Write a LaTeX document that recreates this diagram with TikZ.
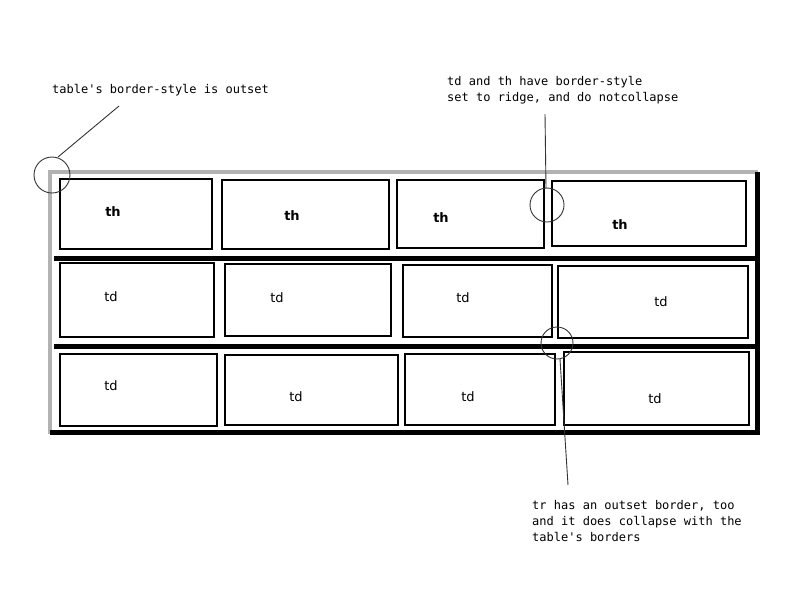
\documentclass[tikz,border=0pt]{standalone}
\usepackage{fontspec}
\setmainfont{DejaVu Sans}
\setmonofont{DejaVu Sans Mono}
\begin{document}
\begin{tikzpicture}[x=1pt,y=-1pt,
  cellbox/.style={draw=black,line width=1.1},
  lbl/.style={font=\fontsize{13}{15}\selectfont},
  hlbl/.style={font=\fontsize{13}{15}\selectfont\bfseries},
  note/.style={font=\ttfamily\fontsize{12}{16}\selectfont,align=left,anchor=north west,inner sep=0},
  callout/.style={draw=black!80,line width=0.9}]
\useasboundingbox (0,0) rectangle (800,600);
% table
\draw[line width=4,black!30] (50,434) -- (50,172) -- (758,172);
\draw[line width=5] (757,172) -- (757,434);
\draw[line width=5] (50,432) -- (760,432);
\draw[line width=5] (54,258) -- (757,258);
\draw[line width=5] (54,346) -- (757,346);
% cells
\foreach \n/\a/\b/\c/\d in {a1/60/179/212/249,a2/222/180/389/249,a3/397/180/544/248,a4/552/181/746/246,
  b1/60/263/214/337,b2/225/264/391/336,b3/403/265/552/337,b4/558/266/748/338,
  c1/60/354/217/426,c2/225/355/398/425,c3/405/354/555/425,c4/564/352/749/425}
  \draw[cellbox] (\a,\b) rectangle (\c,\d) coordinate (\n);
\foreach \n/\x/\y in {h1/113/212,h2/292/216,h3/441/218,h4/620/225}
  \node[hlbl] (\n) at (\x,\y) {th};
\foreach \n/\x/\y in {d1/111/297,d2/277/298,d3/463/298,d4/661/302,e1/111/386,e2/296/397,e3/468/397,e4/655/399}
  \node[lbl] (\n) at (\x,\y) {td};
% callouts
\node[draw=black!80,circle,minimum size=36,inner sep=0,line width=0.9] (k1) at (52,175) {};
\node[draw=black!80,circle,minimum size=34,inner sep=0,line width=0.9] (k2) at (547,205) {};
\node[draw=black!80,circle,minimum size=32,inner sep=0,line width=0.9] (k3) at (557,343) {};
\node[note] (t1) at (52,84) {table's border-style is outset};
\node[note] (t2) at (447,76) {td and th have border-style\\set to ridge, and do notcollapse};
\node[note] (t3) at (532,500) {tr has an outset border, too\\and it does collapse with the\\table's borders};
\coordinate (p1) at (119,106);
\coordinate (p2) at (545,114);
\coordinate (p3) at (568,485);
\draw[callout] (k1.north east) ++(-7,-5) -- (p1);
\draw[callout] (p2) -- (546,188);
\draw[callout] (560,359) -- (p3);
\end{tikzpicture}
\end{document}
